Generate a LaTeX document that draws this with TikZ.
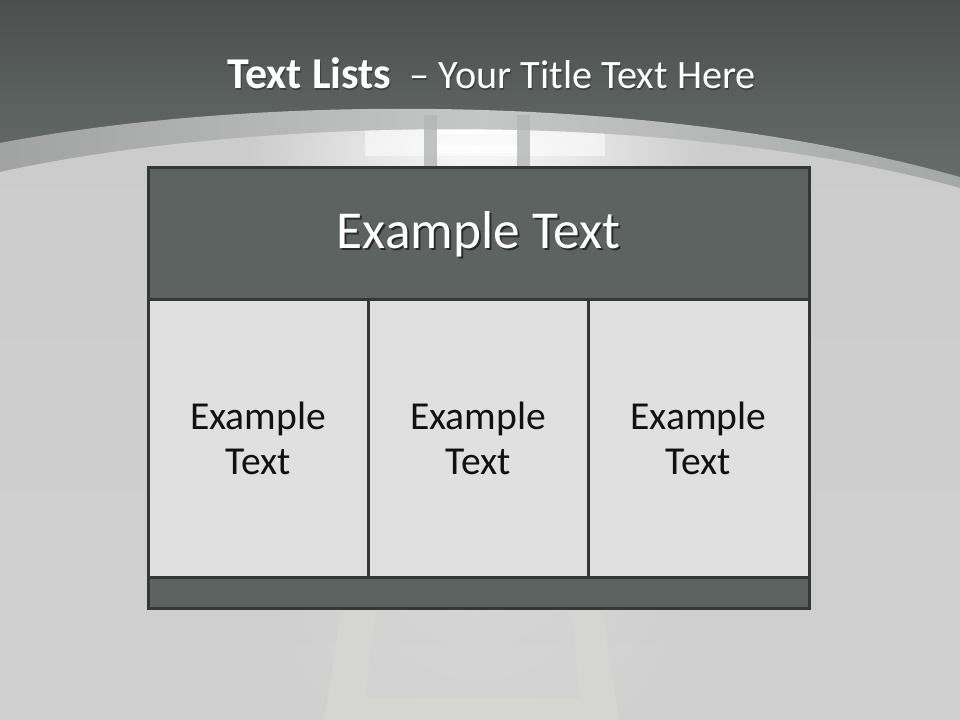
\documentclass[tikz,border=0pt]{standalone}
\usepackage{fontspec}
\setmainfont{Carlito}
\usetikzlibrary{fadings}
\tikzfading[name=glowfade, inner color=transparent!0, outer color=transparent!100]
\definecolor{topA}{HTML}{4B504E}
\definecolor{topB}{HTML}{6A706E}
\definecolor{bandL}{HTML}{A1A3A2}
\definecolor{bandM}{HTML}{C4C7C6}
\definecolor{bandR}{HTML}{A4A8A6}
\definecolor{floorA}{HTML}{CBCCCB}
\definecolor{floorB}{HTML}{CFD0CF}
\definecolor{rail}{HTML}{D5D6D2}
\definecolor{railtop}{HTML}{B3B6B5}
\definecolor{headfill}{HTML}{5D6361}
\definecolor{cellfill}{HTML}{DFE0DF}
\definecolor{edge}{HTML}{333836}
\definecolor{ink}{HTML}{111111}
\tikzset{
  panel/.style={draw=edge, line width=2.25pt, inner sep=0pt, outer sep=0pt},
  headbox/.style={panel, fill=headfill, minimum width=495.75pt, minimum height=99pt},
  cellbox/.style={panel, fill=cellfill, minimum height=207.75pt, text=ink, align=center,
     font=\fontsize{29.7}{33.75}\selectfont},
  footbox/.style={panel, fill=headfill, minimum width=495.75pt, minimum height=23.25pt},
  titletext/.style={text=white, inner sep=0pt},
}
\newcommand{\titlestr}{{\fontsize{33}{38}\selectfont\bfseries Text Lists}{\fontsize{30.2}{36}\selectfont\ \ – Your Title Text Here}}
\begin{document}
\begin{tikzpicture}[x=0.75pt, y=-0.75pt]
\useasboundingbox (0,0) rectangle (960,720);
% background top
\shade[top color=topA, bottom color=topB] (0,0) rectangle (960,200);
% outer band
\shade[left color=bandL, right color=bandR, middle color=bandM]
  (0,143) .. controls (250,95) and (650,90) .. (960,177) -- (960,720) -- (0,720) -- cycle;
% floor
\shade[top color=floorA, bottom color=floorB]
  (0,172) .. controls (260,115) and (680,110) .. (960,188) -- (960,720) -- (0,720) -- cycle;
% glow inside floor
\begin{scope}
\clip (0,172) .. controls (260,115) and (680,110) .. (960,188) -- (960,720) -- (0,720) -- cycle;
\fill[white, opacity=0.9, path fading=glowfade] (478,150) ellipse [x radius=230, y radius=90];
\fill[white, opacity=0.25, path fading=glowfade] (478,400) ellipse [x radius=260, y radius=420];
\fill[white, opacity=0.55] (365,128) rectangle (605,156);
\end{scope}
% top ladder
\fill[railtop, opacity=0.8] (424,115) rectangle (437,168);
\fill[railtop, opacity=0.8] (517,115) rectangle (530,168);
\fill[white, opacity=0.9] (437,130) rectangle (517,134);
\fill[white, opacity=0.95] (437,145) rectangle (517,153);
% bottom ladder
\fill[rail] (342,608) -- (376,608) -- (363,720) -- (324,720) -- cycle;
\fill[rail] (571,608) -- (602,608) -- (619,720) -- (582,720) -- cycle;
\fill[rail] (363,698) rectangle (582,720);
% title
\node[titletext, text=black, opacity=0.3, anchor=base] at (492.5,90.5) {\titlestr};
\node[titletext, anchor=base] (title) at (491.5,89) {\titlestr};
% table
\node[headbox] (head) at (478.5,234) {};
\node[text=black, opacity=0.55, font=\fontsize{40}{48}\selectfont] at (480.5,236) {Example Text};
\node[text=white, font=\fontsize{40}{48}\selectfont] (headtext) at (478.5,234) {Example Text};
\node[cellbox, minimum width=165pt] (c1) at (258,438.5) {Example\\Text};
\node[cellbox, minimum width=165pt] (c2) at (478,438.5) {Example\\Text};
\node[cellbox, minimum width=165.75pt] (c3) at (698.5,438.5) {Example\\Text};
\node[footbox] (foot) at (478.5,592.5) {};
\end{tikzpicture}
\end{document}
